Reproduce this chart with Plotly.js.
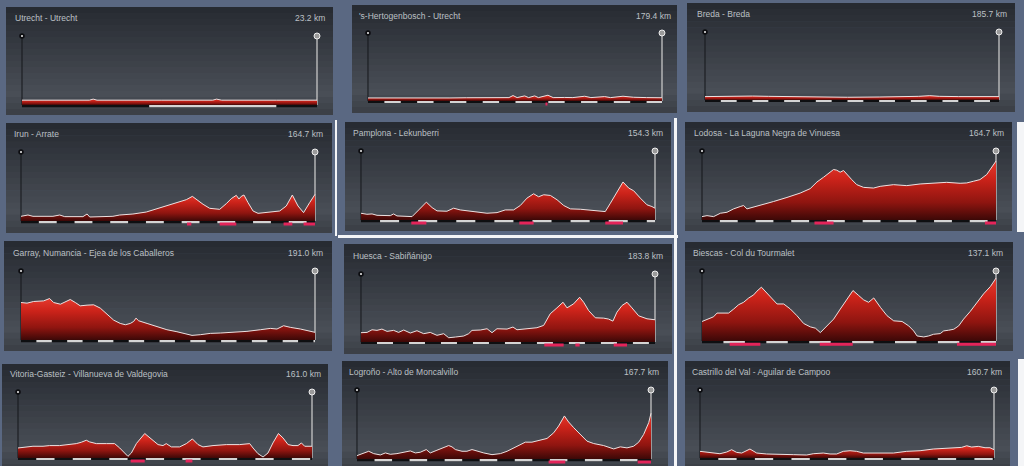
<!DOCTYPE html>
<html><head><meta charset="utf-8">
<script src="https://cdn.plot.ly/plotly-3.0.1.min.js"></script>
<style>html,body{margin:0;padding:0;background:#5a6882;overflow:hidden}#chart{width:1024px;height:466px}</style>
</head><body><div id="chart"></div><script>
// ---------- DATA ----------
const stageTitles = ["Utrecht - Utrecht", "'s-Hertogenbosch - Utrecht", "Breda - Breda",
  "Irun - Arrate", "Pamplona - Lekunberri", "Lodosa - La Laguna Negra de Vinuesa",
  "Garray, Numancia - Ejea de los Caballeros", "Huesca - Sabiñánigo", "Biescas - Col du Tourmalet",
  "Vitoria-Gasteiz - Villanueva de Valdegovia", "Logroño - Alto de Moncalvillo", "Castrillo del Val - Aguilar de Campoo"];
const stageDistances = [23.2, 179.4, 185.7, 164.7, 154.3, 164.7, 191.0, 183.8, 137.1, 161.0, 167.7, 160.7];

const km1 = [0, 5.3, 5.6, 5.9, 11, 15, 15.3, 15.7, 20, 23.2];
const alt1 = [7, 7, 8.5, 7, 7, 7, 8.5, 7, 7, 7];

const km2 = [0,10,20,30,40,50,60,70,80,86,88.5,91,95.6,98,101.7,104,109.8,113,120,125,132.2,136,144.4,148,155.6,162,170,179.4];
const alt2 = [4.5,4.3,4.6,4.4,4.7,4.5,4.8,4.6,4.8,5,8,5,7.5,5,7.5,5,8.5,5,5.2,5,7,5,6.5,5,7,5.5,5,4.8];

const km3 = [0,12,22,30,40,50,70,90,110,125,135,142,148,160,175,185.7];
const alt3 = [5,5.4,6.4,5.8,5.4,5,4.4,4,4.4,4.8,5.4,6.4,5.4,5,5,5];

const km4 = [0,3.9,6.7,10.5,17.9,21.7,24.5,34.7,37,38.5,44.1,51.5,55.3,62.7,70.2,77.7,83.3,88.9,92.6,96,98.2,102,105.7,111.3,115,117.8,120.6,122.1,123.4,124.9,127.2,130,132.8,137.4,144.9,148.6,152,155.2,158.3,161.7,164.7];
const alt4 = [6.8,8.7,6.8,6.8,6.8,8.7,6.3,6.3,10.1,5.8,6.3,6.8,8.7,10.1,13,19.3,24.2,28,30.9,35.7,31.4,24.2,18.4,16.9,25.1,32.4,37.2,31.9,35.7,37.7,26.6,14.5,11.1,12.1,14.5,21.7,37.7,21.7,12.1,26.6,38.6];

const km5 = [0,3.1,5.8,8.4,15.4,17.1,18.9,26.8,30.3,34.3,37.3,39.9,45.1,48.6,52.1,59.1,62.6,66.1,71.4,75.7,80.1,83.6,87.1,90.6,93.2,95.9,99.4,102.9,106.4,109.9,115.1,122.1,128.2,130.9,134.4,137.5,140.5,143.1,146.6,150.1,152.7,154.3];
const alt5 = [9.8,8.3,8.8,6.8,6.3,8.8,5.9,4.9,14.6,25.9,18,13.2,12.7,17.1,14.6,12.2,10.7,9.8,10.7,14.6,14.6,21,31.7,38,33.7,36.6,35.6,29.3,21,16.1,15.6,14.1,12.2,24.4,41.5,55.1,46.3,42.4,31.7,22,19.5,17.1];

const km6 = [0,2.8,6.5,10.3,14,17.7,21.4,23.3,25.2,32.6,40.1,47.6,55,60.6,64.4,68.1,70.9,73.7,75.5,77.4,79.3,81.1,83.9,86.7,90.5,96.1,99.8,107.3,114.7,122.2,129.6,137.1,144.6,148.3,152,155.7,159.5,162.3,164.7];
const alt6 = [4.9,6.3,4.9,9.8,11.2,16.1,19.5,21,16.1,21,26.8,32.7,39,45.4,55.1,62,67.3,73.2,72.2,69.3,71.7,65.9,58.5,51.2,47.3,46.3,48.8,51.2,49.8,52.2,53.7,54.6,53.2,53.7,56.1,58.5,65.9,75.6,85.4];

const km7 = [0,3.9,8.2,14.7,18.6,21.2,25.6,28.8,32,35.3,38.5,42.9,47.2,51.5,55.9,60.2,64.5,67.8,71,73.2,74.7,76.4,81.9,88.4,94.8,101.3,107.8,111.1,116.5,123,129.5,138.2,146.8,155.5,162,166.3,170.6,175,181.5,191];
const alt7 = [54.3,53.4,55.8,56.7,60.1,54.3,51.9,55.3,58.7,54.3,49.5,50.5,51,46.2,37.5,28.8,24,22.1,24,26.9,31.7,27.9,24,19.2,14.9,12,8.7,6.7,7.7,9.6,10.1,11.1,12.5,14.9,16.8,15.9,20.7,18.3,15.9,11.1];

const km8 = [0,3.8,6.9,10,13.1,16.3,20.4,23.5,26.7,30.8,35,39.2,43.3,47.5,51.7,54.8,59,64.2,67.3,69.4,74.6,78.8,81.9,85,91.3,95,97.5,103.8,110,114.2,118.3,122.5,126.3,128.8,132.9,136.7,139.2,142.3,146.5,151.7,154.8,157.5,160,163.2,166.3,169.4,173.6,178.8,183.8];
const alt8 = [13.7,14.1,18,17.1,19,15.6,17.1,14.1,17.6,13.2,16.6,12.2,14.1,9.8,12.2,6.3,7.3,8.8,12.2,17.1,17.6,19.5,13.7,19.5,19,22,18,19.5,21,24.4,41.5,50.2,58.5,50.2,56.1,65.9,58.5,46.3,35.6,35.1,33.7,30.7,43.9,53.7,58.5,50.2,38.5,34.1,32.7];

const km9 = [0,3.1,5.4,7,12.4,14.8,17.1,19.4,21.8,24.1,25.6,27.7,29.5,31.9,35,38.1,41.2,44.3,47.4,50.5,52.9,55.2,58.3,61.4,64.5,67.6,70.4,73.1,75.4,77.7,80.1,83.2,86.3,89.4,93.3,96.4,98.7,100.3,103.4,105.7,108,111.1,112.7,115,117.4,119.7,122,125.1,128.2,131.3,134.5,137.1];
const alt9 = [27.9,31.3,34.6,39.9,39.9,45.7,51.9,55.3,61.5,65.9,71.2,76.9,71.2,63.5,52.9,52.9,45.7,36.1,25,20.2,18.3,12,21.6,31.3,45.7,60.1,72.1,64.9,58.7,55.3,61.5,48.1,36.1,28.8,27.9,21.6,14.4,7.2,5.8,7.2,9.6,10.6,14.4,15.4,16.8,21.6,31.3,42.3,55.3,67.3,77.9,89.9];

const km10 = [0,4.6,8.2,13.7,17.3,22.8,26.5,29.2,31.9,34.7,37.4,39.2,42.9,48.4,52.9,55.7,58.4,60.2,62.1,64.8,69.4,73,76.7,79.4,81.2,84,88.5,92.2,95.5,98.6,101.3,106.8,114.1,121.4,126.9,128.7,131.4,134.2,136.9,139.6,142.6,145.1,147.9,150.6,153.3,155.2,157,161];
const alt10 = [15.2,16.2,17.8,17.8,18.8,18.8,19.8,20.3,21.8,23.9,26.9,24.4,21.8,21.8,21.8,15.2,7.6,2.5,7.6,21.8,37.1,28.9,20.3,18.8,21.8,16.8,16.8,21.8,28.9,20.3,16.8,18.8,20.3,20.3,21.8,15.2,6.6,1.5,7.6,22.8,37.1,30.5,20.3,18.8,18.8,22.8,17.8,17.8];

const km11 = [0,2.9,6.7,9.5,13.3,16.2,19,22.8,26.6,30.4,33.3,36.1,39.5,41.8,45.6,49.4,52.3,54.2,56.1,59.9,62.7,65.6,68.4,72.3,77,81.8,85.6,89.4,93.2,96,99.8,103.6,108.4,112.2,115,118.3,120.7,123.6,127.4,131.2,135,140.7,146.4,150.2,154,157.8,160.7,163.5,166.4,167.7];
const alt11 = [4.9,7.3,11.2,7.8,5.9,8.8,6.8,7.8,9.8,11.7,8.8,9.8,13.7,8.8,12.7,17.1,19.5,17.6,13.7,11.2,11.2,13.7,11.2,8.8,6.3,7.8,11.2,16.1,22,24.4,24.4,26.8,29.8,38,47.8,62.4,53.7,45.4,35.6,25.9,22.4,19.5,14.6,17.6,16.1,18.5,24.4,35.6,52.7,66.3];

const km12 = [0,3.6,7.3,10.9,14.6,17.3,20,22.8,27.3,31,36.4,43.7,51,58.3,61.9,67.4,71.1,74.7,78.3,82,85.6,89.3,98.4,105.7,113,120.3,127.5,134.8,140.3,143,145.8,148.5,152.1,155.8,158.5,160.7];
const alt12 = [9.8,8.8,8.3,6.3,8.8,12.2,8.3,7.3,13.2,7.3,5.9,5.9,4.9,4.4,6.3,7.3,5.9,5.9,9.8,10.7,9.8,7.3,7.3,7.3,9.8,10.7,13.2,14.6,16.1,15.6,18,16.1,17.1,15.1,15.1,12.2];

// categorised climbs (km ranges)
const climbs1 = [], climbs3 = [], climbs7 = [], climbs12 = [];
const climbs2 = [[108.3, 109.5]];
const climbs4 = [[93, 95.4], [111.3, 120.6], [147.1, 152], [158.3, 164.7]];
const climbs5 = [[26.4, 34.3], [83.1, 90.6], [128.2, 137.5]];
const climbs6 = [[63, 73.7], [158.5, 164.7]];
const climbs8 = [[114.6, 126.7], [134, 136.7], [158, 166.3]];
const climbs9 = [[12.9, 27.2], [54.9, 70.3], [118.9, 137.1]];
const climbs10 = [[61.7, 69.4], [91.8, 95.5]];
const climbs11 = [[109.3, 118.8], [160.1, 167.7]];

const stageKm = [km1,km2,km3,km4,km5,km6,km7,km8,km9,km10,km11,km12];
const stageAlt = [alt1,alt2,alt3,alt4,alt5,alt6,alt7,alt8,alt9,alt10,alt11,alt12];
const stageClimbs = [climbs1,climbs2,climbs3,climbs4,climbs5,climbs6,climbs7,climbs8,climbs9,climbs10,climbs11,climbs12];
const segmentKm = 10;

// ---------- LAYOUT GEOMETRY (pixels) ----------
const W = 1024, H = 466;
const PANELS = [
 {box:[6,7,333,115],    s:22,  f:317, b:105, t:36,  tx:13,  ty:18,  rx:327},
 {box:[352,5,677,113],  s:368, f:662, b:101, t:33,  tx:357, ty:16,  rx:673},
 {box:[687,3,1015,112], s:705, f:999, b:100, t:32,  tx:695, ty:14,  rx:1009},
 {box:[6,123,332,233],  s:21,  f:315, b:221, t:152, tx:12,  ty:134, rx:325},
 {box:[345,122,671,231],s:361, f:655, b:220, t:151, tx:351, ty:133, rx:665},
 {box:[685,122,1012,231],s:702,f:996, b:220, t:151, tx:692, ty:133, rx:1006},
 {box:[4,241,332,351],  s:21,  f:315, b:340, t:271, tx:11,  ty:253, rx:325},
 {box:[344,244,672,354],s:361, f:655, b:342, t:274, tx:351, ty:256, rx:665},
 {box:[685,242,1013,351],s:702,f:996, b:341, t:271, tx:691, ty:253, rx:1005},
 {box:[2,364,328,470],  s:18,  f:312, b:458, t:392, tx:8,   ty:374, rx:323},
 {box:[342,361,668,470],s:357, f:651, b:459, t:390, tx:347, ty:372, rx:661},
 {box:[685,361,1010,470],s:700,f:994, b:458, t:390, tx:690, ty:372, rx:1004}
];
const px = v => v / W, py = v => 1 - v / H;

function hex(c){return [parseInt(c.slice(1,3),16),parseInt(c.slice(3,5),16),parseInt(c.slice(5,7),16)];}
function mix(a,b,t){const A=hex(a),B=hex(b);return 'rgb('+A.map((v,i)=>Math.round(v+(B[i]-v)*t)).join(',')+')';}
function panelColor(t){ // t: 0 top -> 1 bottom
  if (t < 0.8) return mix('#262a31', '#494e56', t / 0.8);
  return mix('#494e56', '#3a3e45', (t - 0.8) / 0.2);
}

const traces = [], shapes = [], annotations = [];
const layout = {
  width: W, height: H, margin: {l:0, r:0, t:0, b:0},
  paper_bgcolor: '#5a6882', plot_bgcolor: 'rgba(0,0,0,0)', showlegend: false,
  shapes, annotations
};

// page decorations (light seams of the collage)
[[674,118,677,466],[335,120,337,236],[338,235,678,238],[1017,122,1024,232],[1018,359,1024,466]].forEach(r => {
  shapes.push({type:'rect', xref:'paper', yref:'paper', x0:px(r[0]), x1:px(r[2]), y0:py(r[3]), y1:py(r[1]),
    fillcolor:'#f4f5f7', line:{width:0}, layer:'below'});
});

PANELS.forEach((P, i) => {
  const [bx0, by0, bx1, by1] = P.box;
  const N = 18;
  for (let k = 0; k < N; k++) {
    const y0 = by0 + (by1 - by0) * k / N, y1 = by0 + (by1 - by0) * (k + 1) / N + 0.6;
    shapes.push({type:'rect', xref:'paper', yref:'paper', x0:px(bx0), x1:px(bx1), y0:py(Math.min(y1,by1)), y1:py(y0),
      fillcolor: panelColor((k + 0.5) / N), line:{width:0}, layer:'below'});
  }
  const d = stageDistances[i], km = stageKm[i], alt = stageAlt[i];
  const w = P.f - P.s, padX = 0.02;
  const u = (P.b - P.t) / 100;
  const idx = i === 0 ? '' : String(i + 1);
  const xa = 'x' + idx, ya = 'y' + idx;
  layout['xaxis' + idx] = {domain:[px(P.s - padX * w), px(P.f + padX * w)], range:[-padX * d, d * (1 + padX)],
    anchor: ya, visible:false, fixedrange:true};
  layout['yaxis' + idx] = {domain:[py(P.b + 8 * u), py(P.t - 6 * u)], range:[-8, 106], anchor: xa, visible:false, fixedrange:true};

  // start / finish posts
  traces.push({type:'scatter', mode:'lines', xaxis:xa, yaxis:ya, x:[0,0], y:[0,100], line:{color:'#15171b', width:1}, hoverinfo:'skip'});
  traces.push({type:'scatter', mode:'lines', xaxis:xa, yaxis:ya, x:[d,d], y:[0,100], line:{color:'#c6c6c6', width:1.3}, hoverinfo:'skip'});
  // elevation profile
  traces.push({type:'scatter', mode:'lines', xaxis:xa, yaxis:ya, x:km, y:alt, fill:'tozeroy',
    fillgradient:{type:'vertical', colorscale:[[0,'#3c0807'],[0.3,'#8f1510'],[0.7,'#cc231a'],[1,'#e43a2e']]},
    line:{color:'#ece2e2', width:1}, hoverinfo:'skip'});
  // distance scale bar
  traces.push({type:'scatter', mode:'lines', xaxis:xa, yaxis:ya, x:[0,d], y:[-1.5,-1.5], line:{color:'#0e0f11', width:2.2}, hoverinfo:'skip'});
  const wx = [], wy = [];
  for (let k = segmentKm; k < d; k += 2 * segmentKm) { wx.push(k, Math.min(k + segmentKm, d), null); wy.push(-1.5, -1.5, null); }
  traces.push({type:'scatter', mode:'lines', xaxis:xa, yaxis:ya, x:wx, y:wy, line:{color:'#d4d4d4', width:2.2}, hoverinfo:'skip'});
  const cx = [], cy = [];
  stageClimbs[i].forEach(c => { cx.push(c[0], c[1], null); cy.push(-4.5, -4.5, null); });
  if (cx.length) traces.push({type:'scatter', mode:'lines', xaxis:xa, yaxis:ya, x:cx, y:cy, line:{color:'#e4245a', width:3}, hoverinfo:'skip'});
  // post heads
  traces.push({type:'scatter', mode:'markers', xaxis:xa, yaxis:ya, x:[0], y:[100], cliponaxis:false,
    marker:{symbol:'circle', size:5.5, color:'#0c0d10', line:{color:'#0c0d10', width:0}}, hoverinfo:'skip'});
  traces.push({type:'scatter', mode:'markers', xaxis:xa, yaxis:ya, x:[0], y:[100], cliponaxis:false,
    marker:{symbol:'circle', size:2, color:'#f0f0f0', line:{width:0}}, hoverinfo:'skip'});
  traces.push({type:'scatter', mode:'markers', xaxis:xa, yaxis:ya, x:[d], y:[100], cliponaxis:false,
    marker:{symbol:'circle', size:6, color:'#9a9a9a', line:{color:'#eeeeee', width:1}}, hoverinfo:'skip'});

  const font = {family:'"Liberation Sans Narrow", "Arial Narrow", "Liberation Sans", sans-serif', size:8.5, color:'#bcc0c5'};
  annotations.push({xref:'paper', yref:'paper', x:px(P.tx), y:py(P.ty), xanchor:'left', yanchor:'middle',
    text:stageTitles[i], showarrow:false, font});
  annotations.push({xref:'paper', yref:'paper', x:px(P.rx), y:py(P.ty), xanchor:'right', yanchor:'middle',
    text:stageDistances[i].toFixed(1) + ' km', showarrow:false, font});
});

Plotly.newPlot('chart', traces, layout, {displayModeBar:false, staticPlot:true});
</script></body></html>
